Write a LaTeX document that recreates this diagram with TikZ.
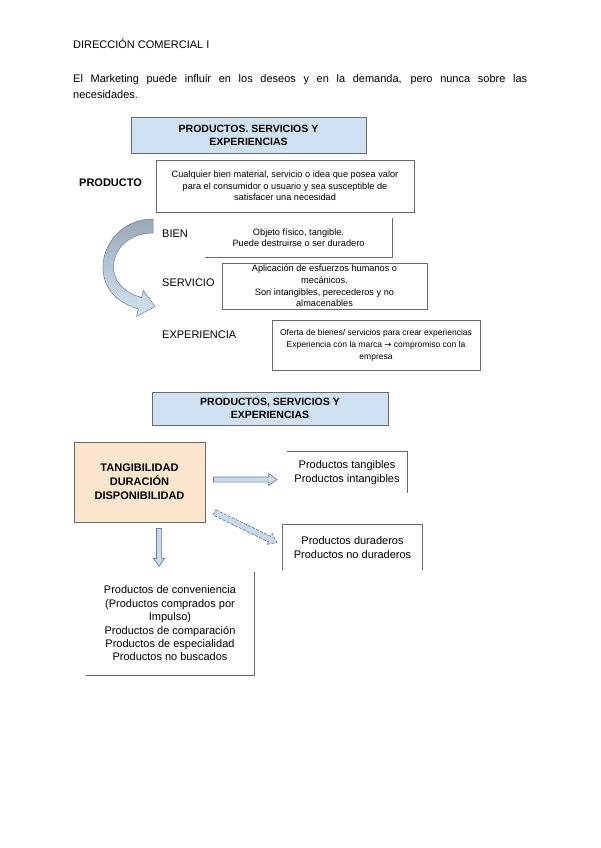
\documentclass[tikz,border=0pt]{standalone}
\usepackage{fontspec}
\setmainfont{Liberation Sans}
\newfontfamily\djv{DejaVu Sans}
\usetikzlibrary{calc}
\definecolor{ttlblue}{HTML}{CFE2F3}
\definecolor{peach}{HTML}{FCE5CD}
\definecolor{bord}{HTML}{6A6A6A}
\definecolor{arrfill}{HTML}{C9DAEE}
\definecolor{arrbord}{HTML}{6F7F90}
\definecolor{curvtop}{HTML}{9AA8B6}
\definecolor{curvbot}{HTML}{D2E4F6}
\newcommand\blkarrow[5][]{%
  \coordinate (baH) at ($(#3)!8pt!(#2)$);
  \draw[#1] ($(#2)!#4!90:(#3)$) -- ($(baH)!#4!90:(#3)$) -- ($(baH)!#5!90:(#3)$) -- (#3)
    -- ($(baH)!#5!-90:(#3)$) -- ($(baH)!#4!-90:(#3)$) -- ($(#2)!#4!-90:(#3)$) -- cycle;}
\tikzset{
  lbl/.style={anchor=west, inner sep=0, font=\fontsize{11}{13}\selectfont},
  ttl/.style={draw=bord, line width=0.8pt, fill=ttlblue, inner sep=0, align=center,
    font=\bfseries\fontsize{10.5}{13}\selectfont},
  desc/.style={inner sep=0, align=center, font=\fontsize{9.2}{11.6}\selectfont},
  list/.style={inner sep=0, align=center, font=\fontsize{11}{13.4}\selectfont},
  edge/.style={draw=bord, line width=0.8pt},
  blk/.style={draw=arrbord, fill=arrfill, line width=0.7pt, line join=miter},
}
\begin{document}
\begin{tikzpicture}[x=1pt,y=-1pt]
\useasboundingbox[fill=white] (0,0) rectangle (600,848);

% header and paragraph
\node[anchor=base west, inner sep=0, font=\fontsize{11}{13}\selectfont] (hdr) at (73,49) {DIRECCIÓN COMERCIAL I};
\node[anchor=north west, inner sep=0, text width=454pt, align=justify,
  font=\fontsize{11}{16}\selectfont] (par) at (73,74)
  {El Marketing puede influir en los deseos y en la demanda, pero nunca sobre las\linebreak necesidades.};

% first section
\node[ttl, minimum width=235, minimum height=36] (t1) at (248.5,135) {PRODUCTOS. SERVICIOS Y\\EXPERIENCIAS};

\node[lbl, font=\bfseries\fontsize{11}{13}\selectfont] (lprod) at (79,183) {PRODUCTO};
\node[desc, draw=bord, line width=0.8pt, minimum width=258, minimum height=52] (dprod) at (285,186)
  {Cualquier bien material, servicio o idea que posea valor\\para el consumidor o usuario y sea susceptible de\\satisfacer una necesidad};

\node[lbl] (lbien) at (162,234) {BIEN};
\node[desc, minimum width=187, minimum height=39] (dbien) at (298.5,237.5)
  {Objeto físico, tangible.\\Puede destruirse o ser duradero};
\draw[edge] (dbien.north east) -- (dbien.south east) -- (dbien.south west);

\node[lbl] (lserv) at (162,283) {SERVICIO};
\node[desc, draw=bord, line width=0.8pt, minimum width=205, minimum height=46] (dserv) at (324.5,286)
  {Aplicación de esfuerzos humanos o\\mecánicos.\\Son intangibles, perecederos y no\\almacenables};

\node[lbl] (lexp) at (162,335) {EXPERIENCIA};
\node[desc, font=\fontsize{8.5}{11.8}\selectfont, draw=bord, line width=0.8pt, minimum width=208, minimum height=50] (dexp) at (376,345)
  {Oferta de bienes/ servicios para crear experiencias\\Experiencia con la marca {\djv→} compromiso con la\\empresa};

% curved arrow
\path[draw=arrbord, line width=0.5pt, top color=curvtop, bottom color=curvbot, line join=miter]
  (153,219) .. controls (100,219) and (80,293) .. (138.4,308.8)
  -- (136.6,316.5) -- (155,306.5) -- (143.4,290.5) -- (141.6,297.5)
  .. controls (96,285) and (110,233) .. (153,233) -- cycle;

% second section
\node[ttl, minimum width=236, minimum height=33] (t2) at (270,408.5) {PRODUCTOS, SERVICIOS Y\\EXPERIENCIAS};

\node[draw=bord, line width=0.8pt, fill=peach, minimum width=131, minimum height=80, inner sep=0,
  align=center, font=\bfseries\fontsize{11}{14}\selectfont] (crit) at (139.5,482)
  {TANGIBILIDAD\\DURACIÓN\\DISPONIBILIDAD};

\node[list, minimum width=120, minimum height=41] (tang) at (347,472.5)
  {Productos tangibles\\Productos intangibles};
\draw[edge] (tang.north west) -- (tang.north east) -- (tang.south east);

\node[list, minimum width=139, minimum height=45] (dur) at (352.5,547.5)
  {Productos duraderos\\Productos no duraderos};
\draw[edge] (dur.south west) -- (dur.north west) -- (dur.north east) -- (dur.south east);

\node[list, minimum width=168, minimum height=103] (disp) at (170,623.5)
  {Productos de conveniencia\\(Productos comprados por\\Impulso)\\Productos de comparación\\Productos de especialidad\\Productos no buscados};
\draw[edge] (disp.north east) -- (disp.south east) -- (disp.south west);

% block arrows
\coordinate (a1s) at ($(crit.east)+(8,-2.5)$);
\coordinate (a1e) at ($(tang.west)+(-10,7)$);
\blkarrow[blk]{a1s}{a1e}{2.6pt}{6pt}
\coordinate (a2s) at ($(crit.south east)+(9,-10)$);
\coordinate (a2e) at ($(dur.west)+(-6,-5)$);
\blkarrow[blk, dashed, dash pattern=on 3pt off 1.5pt]{a2s}{a2e}{3pt}{6pt}
\coordinate (a3s) at ($(crit.south)+(19.5,6)$);
\coordinate (a3e) at ($(crit.south)+(19.5,44)$);
\blkarrow[blk]{a3s}{a3e}{2.6pt}{5.5pt}
\end{tikzpicture}
\end{document}
